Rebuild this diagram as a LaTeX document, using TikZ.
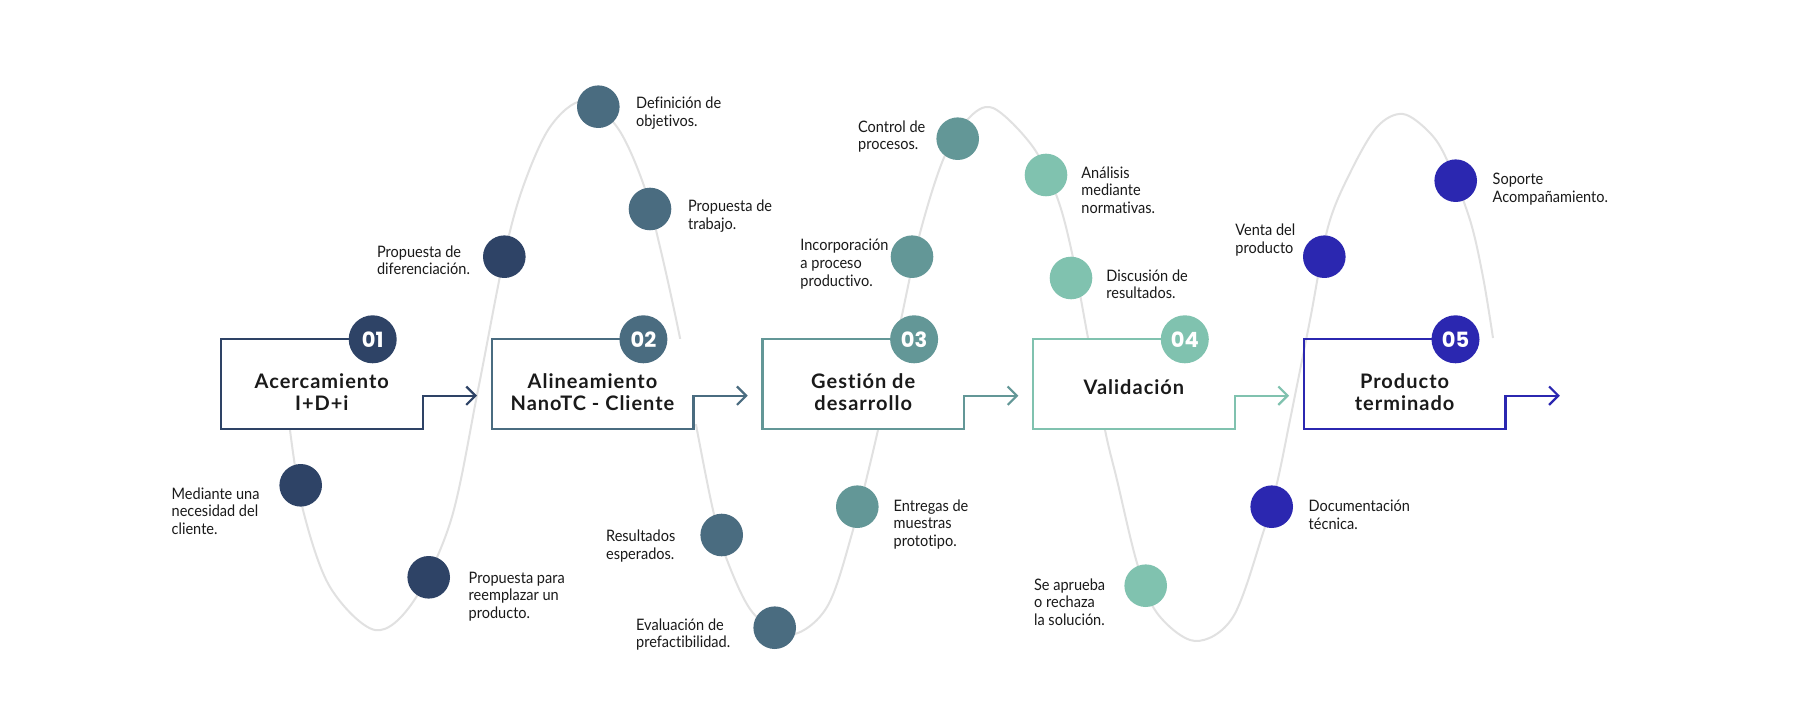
\documentclass[tikz,border=0pt]{standalone}
\usepackage{fontspec}
\setmainfont{Lato}
\newfontfamily\labfont{Lato}[FakeStretch=0.92, Ligatures=NoCommon]
\newfontfamily\titfont{Lato}[LetterSpace=5, Ligatures=NoCommon]
\newfontfamily\numfont{Poppins}
\usetikzlibrary{arrows.meta}
\definecolor{cA}{HTML}{2E4366}
\definecolor{cB}{HTML}{4A6C80}
\definecolor{cC}{HTML}{639797}
\definecolor{cD}{HTML}{80C2AF}
\definecolor{cE}{HTML}{2B27B0}
\definecolor{wavegray}{HTML}{E1E1E1}
\definecolor{ink}{HTML}{1A1A1A}
\tikzset{
  wave/.style={draw=wavegray, line width=1pt},
  cover/.style={fill=white, draw=none},
  dot/.style={circle, inner sep=0pt, minimum size=21.3pt},
  numdot/.style={circle, inner sep=0pt, minimum size=24pt, text=white,
    font=\numfont\bfseries\fontsize{10.5}{12}\selectfont},
  lab/.style={anchor=base west, inner sep=0pt, align=left, text=ink,
    font=\labfont\fontsize{7.9}{8.75}\selectfont},
  ttl/.style={anchor=base, inner sep=0pt, align=center, text=ink,
    font=\titfont\bfseries\fontsize{10}{11.2}\selectfont},
  boxline/.style={line width=1.1pt, -{Straight Barb[length=4.6pt,width=9.2pt]}}
}
\begin{document}
\begin{tikzpicture}[x=0.5pt,y=-0.5pt]
\fill[white] (0,0) rectangle (1793,727);
\useasboundingbox (0,0) rectangle (1793,727);

% wave
\draw[wave] plot[smooth, tension=0.55] coordinates {
 (290,430) (303,510) (330,587) (375,630) (413,602) (451,520) (478,390)
 (504,257) (523,187) (550,127) (583,101) (617,127) (643,183) (660,247)
 (680,338) (697,430) (713,510) (727,560) (753,613) (790,635) (827,607)
 (853,530) (878,430) (902,315) (920,233) (943,160) (967,120) (993,108)
 (1033,147) (1057,197) (1072,253) (1088,338) (1105,430) (1117,480)
 (1137,563) (1157,613) (1195,641) (1233,617) (1263,533) (1277,483)
 (1290,420) (1310,320) (1328,227) (1350,173) (1377,127) (1403,114)
 (1430,133) (1447,160) (1470,220) (1483,277) (1493,338)};

% covers where the wave passes behind the boxes
\fill[cover] (491.7,339.3) rectangle (705,424);
\fill[cover] (762.4,339.3) rectangle (964.1,429.3);
\fill[cover] (1033.1,339.3) rectangle (1234.8,429.3);

% box 01
\coordinate (c1) at (372.7,339.3);
\coordinate (b1tl) at (221,339.3);
\coordinate (b1bl) at (221,429.3);
\coordinate (b1br) at (422.7,429.3);
\coordinate (b1st) at (422.7,395.7);
\coordinate (b1tip) at (477,395.7);
\draw[boxline, draw=cA] (c1) -- (b1tl) -- (b1bl) -- (b1br) -- (b1st) -- (b1tip);
\node[numdot, fill=cA] (n1) at (c1) {01};
\node[ttl] (t1) at (321.8,410.7) {Acercamiento\\I+D+i};

% box 02
\coordinate (c2) at (643.4,339.3);
\coordinate (b2tl) at (491.7,339.3);
\coordinate (b2bl) at (491.7,429.3);
\coordinate (b2br) at (693.4,429.3);
\coordinate (b2st) at (693.4,395.7);
\coordinate (b2tip) at (747.7,395.7);
\draw[boxline, draw=cB] (c2) -- (b2tl) -- (b2bl) -- (b2br) -- (b2st) -- (b2tip);
\node[numdot, fill=cB] (n2) at (c2) {02};
\node[ttl] (t2) at (592.5,410.7) {Alineamiento\\NanoTC - Cliente};

% box 03
\coordinate (c3) at (914.1,339.3);
\coordinate (b3tl) at (762.4,339.3);
\coordinate (b3bl) at (762.4,429.3);
\coordinate (b3br) at (964.1,429.3);
\coordinate (b3st) at (964.1,395.7);
\coordinate (b3tip) at (1018.4,395.7);
\draw[boxline, draw=cC] (c3) -- (b3tl) -- (b3bl) -- (b3br) -- (b3st) -- (b3tip);
\node[numdot, fill=cC] (n3) at (c3) {03};
\node[ttl] (t3) at (863.2,410.7) {Gestión de\\desarrollo};

% box 04
\coordinate (c4) at (1184.8,339.3);
\coordinate (b4tl) at (1033.1,339.3);
\coordinate (b4bl) at (1033.1,429.3);
\coordinate (b4br) at (1234.8,429.3);
\coordinate (b4st) at (1234.8,395.7);
\coordinate (b4tip) at (1289.1,395.7);
\draw[boxline, draw=cD] (c4) -- (b4tl) -- (b4bl) -- (b4br) -- (b4st) -- (b4tip);
\node[numdot, fill=cD] (n4) at (c4) {04};
\node[ttl] (t4) at (1133.9,394) {Validación};

% box 05
\coordinate (c5) at (1455.5,339.3);
\coordinate (b5tl) at (1303.8,339.3);
\coordinate (b5bl) at (1303.8,429.3);
\coordinate (b5br) at (1505.5,429.3);
\coordinate (b5st) at (1505.5,395.7);
\coordinate (b5tip) at (1559.8,395.7);
\draw[boxline, draw=cE] (c5) -- (b5tl) -- (b5bl) -- (b5br) -- (b5st) -- (b5tip);
\node[numdot, fill=cE] (n5) at (c5) {05};
\node[ttl] (t5) at (1404.6,410.7) {Producto\\terminado};

% dots on the wave
\node[dot, fill=cA] (d1) at (300.7,485.3) {};
\node[dot, fill=cA] (d2) at (428.7,577.3) {};
\node[dot, fill=cA] (d3) at (504.3,256.7) {};
\node[dot, fill=cB] (d4) at (598.3,106.7) {};
\node[dot, fill=cB] (d5) at (650,209) {};
\node[dot, fill=cB] (d6) at (721.7,535) {};
\node[dot, fill=cB] (d7) at (774.7,627.7) {};
\node[dot, fill=cC] (d8) at (857.3,506.7) {};
\node[dot, fill=cC] (d9) at (912,256.7) {};
\node[dot, fill=cC] (d10) at (957.7,138.7) {};
\node[dot, fill=cD] (d11) at (1046,175) {};
\node[dot, fill=cD] (d12) at (1071,278) {};
\node[dot, fill=cD] (d13) at (1145.7,585.7) {};
\node[dot, fill=cE] (d14) at (1271.7,506.7) {};
\node[dot, fill=cE] (d15) at (1324.3,256.7) {};
\node[dot, fill=cE] (d16) at (1455.7,180.7) {};

% labels (anchored at the baseline of their last line)
\node[lab] (l1) at (171.3,534) {Mediante una\\necesidad del\\cliente.};
\node[lab] (l2) at (468.3,618.3) {Propuesta para\\reemplazar un\\producto.};
\node[lab] (l3) at (376.7,274.8) {Propuesta de\\diferenciación.};
\node[lab] (l4) at (635.7,126.2) {Definición de\\objetivos.};
\node[lab] (l5) at (687.7,229.2) {Propuesta de\\trabajo.};
\node[lab] (l6) at (605.7,559.2) {Resultados\\esperados.};
\node[lab] (l7) at (635.7,647.5) {Evaluación de\\prefactibilidad.};
\node[lab] (l8) at (893.3,546) {Entregas de\\muestras\\prototipo.};
\node[lab] (l9) at (800,286) {Incorporación\\a proceso\\productivo.};
\node[lab] (l10) at (857.7,149.8) {Control de\\procesos.};
\node[lab] (l11) at (1081,213.3) {Análisis\\mediante\\normativas.};
\node[lab] (l12) at (1106,298.5) {Discusión de\\resultados.};
\node[lab] (l13) at (1033.7,625) {Se aprueba\\o rechaza\\la solución.};
\node[lab] (l14) at (1308.3,529.2) {Documentación\\técnica.};
\node[lab] (l15) at (1235,253.5) {Venta del\\producto};
\node[lab] (l16) at (1492.3,202.5) {Soporte\\Acompañamiento.};
\end{tikzpicture}
\end{document}
